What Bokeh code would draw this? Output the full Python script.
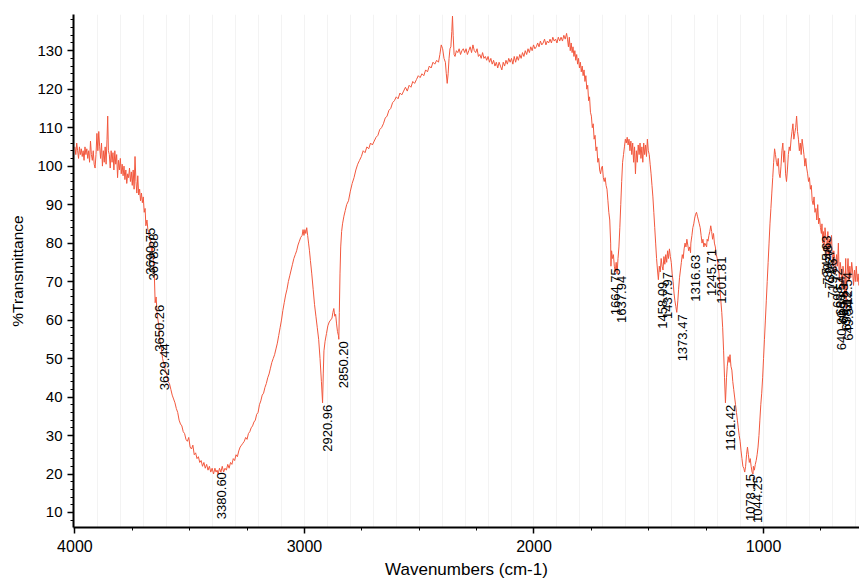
import math
from bokeh.plotting import figure
from bokeh.models import FixedTicker, SingleIntervalTicker, Range1d, ColumnDataSource
from bokeh.core.properties import value
from bokeh.embed import file_html
from bokeh.resources import INLINE

# Spectrum (wavenumber cm-1, %T)
wn = [4000,3996,3992,3988,3984,3980,3976,3972,3968,3964,3960,3956,3952,3948,3944,3940,3936,3932,3928,3924,3920,3916,3912,3908,3904,3900,3896,3892,3888,3884,3880,3876,3872,3868,3864,3860,3857,3854,3850,3846,3842,3838,3834,3830,3826,3822,3818,3814,3810,3806,3802,3798,3794,3790,3786,3782,3778,3774,3770,3766,3762,3758,3754,3750,3746,3742,3738,3734,3730,3726,3722,3718,3714,3710,3706,3702,3698,3694,3690.75,3686,3682,3678.88,3674,3670,
      3666,3662,3658,3654,3650.26,3646,3642,3638,3634,3629.44,3624,3618,3612,3606,3600,3594,3588,3582,3576,3570,3564,3558,3552,3546,3540,3534,3528,3522,3516,3510,3504,3498,3492,3486,3480,3474,3468,3462,3456,3450,3444,3438,3432,3426,3420,3414,3408,3402,3396,3390,3385,3380.6,3376,3370,3364,3358,3352,3346,3340,3334,3328,3322,3316,3310,3304,3298,3292,3286,3280,3274,
      3268,3262,3256,3250,3244,3238,3232,3226,3220,3214,3208,3202,3196,3190,3184,3178,3172,3166,3160,3154,3148,3142,3136,3130,3124,3118,3112,3106,3100,3094,3088,3082,3076,3070,3064,3058,3052,3046,3040,3034,3028,3022,3016,3010,3006,3002,2998,2994,2990,2986,2982,2978,2974,2968,2962,2956,2950,2944,2938,2932,2926,2920.96,2918,2915,2910,2904,2898,2892,2886,2880,2876,2872,2868,2864,2860,2856,2852,2850.2,2848,2845,2842,2838,2834,2828,2822,2816,2808,2800,2792,2784,2776,2768,2760,2752,2744,
      2736,2728,2720,2712,2704,2696,2688,2680,2672,2664,2656,2648,2640,2632,2624,2616,2608,2600,2592,2584,2576,2568,2560,2552,2544,2536,2528,2520,2512,2504,2496,2488,2480,2472,2464,2456,2448,2440,2432,2424,2416,2410,2404,2398,2392,2386,2382,2378,2374,2370,2366,2362,2358,2355,2352,2348,2344,2338,2332,2326,2320,2314,2308,2302,2296,2290,2284,2278,2272,2266,2260,2254,2248,2242,2236,2230,2224,2218,2212,2206,2200,2194,2188,2182,2176,2170,2164,2158,2152,2146,2140,2134,2128,2122,2116,2110,2104,2098,2092,2086,2080,2074,2068,2062,2056,2050,2044,2038,2032,2026,2020,2014,2008,2002,1996,1990,1984,1978,1972,1966,1960,1954,1948,1942,1936,1930,1924,1918,1912,1906,1900,1894,1888,1882,1876,1870,1864,1858,1854,1850,1846,1842,1838,1834,1830,1826,1822,1818,1814,1810,1806,1802,1798,1794,1790,1786,1782,1778,1774,1770,1766,1762,1758,1754,1750,1746,1742,1738,1734,1730,1726,1722,1718,1714,1710,1706,1702,1698,1694,1690,1686,1682,1678,1674,1670,1666,1664.75,1662,1658,1654,1650,1646,1642,1637.94,1634,1630,1626,1622,1618,1614,1610,1606,1602,1598,1594,1590,1586,1582,1578,1574,1570,1566,1562,1558,1554,1550,1546,1542,1538,1534,1530,1526,1522,1518,1514,1510,1506,1502,1498,1494,1490,1486,1482,1478,1474,1470,1466,1462,1458.09,1454,1450,1446,1442,1437.97,1434,1430,1426,1422,1418,1414,1410,1406,1402,1398,1394,1390,1386,1382,1378,1373.47,1370,1366,1362,1358,1354,1350,1346,1342,1338,1334,1330,1326,1322,1318,1316.63,1312,1308,1304,1300,1296,1292,1288,1284,1280,1276,1272,1268,1264,1260,1256,1252,1248,1245.71,1242,1238,1234,1230,1226,1222,1218,1214,1210,1206,1201.81,1198,1194,1190,1186,1182,1178,1174,1170,1166,1161.42,1158,1154,1150,1146,1142,1138,1134,1130,1126,1122,1118,1114,1110,1106,1102,1098,1094,1090,1086,1082,1078.15,1074,1070,1066,1062,1058,1054,1050,1046,1044.25,1040,1036,1032,1028,1024,1020,1016,1012,1008,1004,1000,996,992,988,984,980,976,972,968,964,960,956,952,948,944,940,936,932,928,924,920,916,912,908,904,900,896,892,888,884,880,876,872,868,864,860,856,852,848,844,840,836,832,828,824,820,816,812,808,804,800,796,792,788,784,780,776,772,768,764,760,756,752,748,745.63,742,739.48,736,732.27,728,724,719.86,716,712,708,704,700,698.72,694,690,686.54,682,678,674,669.83,666,662,658.12,654,649.54,646,642,640.8,636,632,628,624,620,616,612.54,608,604,600,596,592,588,584,580]

tr = [105,103,106,104,102,105,103,104.5,102.5,104,101.5,105,103,104.5,102,104,101,106.5,103,101.5,104,100.5,99.5,103,108.5,104,109,105,102,106,100,104,101,105,100.5,107,113,104,103,99.5,104,101,103.5,99,104,100.5,103,97,101.5,99,102,98,100.5,97.5,100,96.5,99,95.5,98,97,99.5,96,98.5,95,99,94,102.5,96,93,97.5,92.5,94,91,93,90.5,92,88,89,84.5,86,83.5,83,81,80.5,
      78,79,74.5,72,64.5,66,62,60,58.5,54.5,53,50,48.5,47,46,44,43.5,42,40.5,39.5,38.5,37,36,34,33,32.5,31,30.5,29,28.5,29.5,27,26.5,27.5,25,25.5,24,24.5,23,23.5,22,23,21.5,22.5,21,22,20.5,21.5,20,21.5,20.5,21,20,21.5,20.5,22,20.5,21.5,21,22.5,21.5,23,22.5,24,23.5,25,24.5,26,27,27.5,
      28,28.5,29.5,29,30.5,31,32,32.5,33.5,34,35.5,36,38,39,40.5,41,42.5,43.5,45,46,47.5,49,50,51,52.5,54,56,58,60,62.5,64.5,66.5,68,70,71.5,73,74.5,76,77,78,79.5,80.5,81.5,82,83.5,82,83.5,82.5,84,82,80,78,75.5,72,68,64,61,58,55,50,44,38.5,46,52,54.5,56.5,58.5,59.5,60,60.5,62,63,61,61.5,59,57,56,55,62,72,79,83,85,87,88.5,90,91,93.5,95.5,97,99,100.5,101.5,102.5,104,
      103.5,105,104.5,106,105.5,106.5,107.5,108,109.5,110,111,112.5,113,114.5,115,116.5,117,118,117.5,119,118.5,119.5,120.5,119.5,121,120.5,122,121.5,122.5,123.5,123,124,123.5,125,124.5,126,125.5,127,126.5,127.5,127,129,131.5,130.5,128,127,124,121.5,124,128,130.5,131,135,139,134,129,128.5,130,129.5,130.5,129,130,130.5,129.5,130.5,129,130,131,129.5,131.5,130,129.5,130.5,128.5,129,128,129.5,128,128.5,127.5,128.5,127,128,126.5,127.5,126,127,125.5,127,126,125,127,126,127.5,126.5,128,127,128,126.5,128.5,127,128.5,127.5,129,128,129.5,128.5,130,129,130.5,129.5,131,130,131.5,130.5,131,132,131,132.5,131.5,132,133,131.5,132.5,132,133,132,133.5,132.5,133,132,133.5,132.5,133.5,132.5,134,133,134.5,133,131,133.5,130,132,129.5,131,128.5,130,127.5,129,126.5,128,125.5,127,124.5,126,123.5,125,122,123.5,120,121,117,118,114,113,110,111,107,108,104,105,101,102,99,98,99.5,100,97,96,97,95,94,91,88,86,80,74,78,76,77,74,72.5,75,72,76,79,84,90,96,101,103,105,107,106,107.5,105.5,107,104,106.5,103,106,101,105,98,104,101,105.5,103,106,102,105,101,106,103,105.5,102.5,107,104,103,100.5,98,95,92,88,84,80,76,73,70.5,74,72.5,76,74,73,76.5,74.5,77,75,78,76,78.5,76.5,75,72,70,67,65,63.5,62,65,68,71,73,75,77,76,78.5,80,79,81,79.5,78,79,77.5,80,82,84,85,86.5,87.5,88,87,86,85,84,82,80,81,79,80,79.5,79,81,80.5,82,83,84.5,83,81,82.5,80,79,77,76,74,72,68,65,62,58,52,45,38.5,45,48,50.5,49,51,48,47,44,42,40,38,36,34,32,30,28.5,26,24,22,21.5,20.5,22,25,27,25,23,24,22,20.5,20,22,21,22.5,23.5,25,27,30,34,38,41,45,50,55,60,65,70,75,80,85,89,93,97,101,104.5,103,101,100,102,98,97,100,104,106,101,104,98,96,99,103,105,104,107,109,111,107,108.5,110,113,109,107,104,106,103,107,105,103,100,102,99.5,98,96,97,94,95,91,90,92,88,89,86,90,85,86.5,84,82.5,85,80,83,78,84,81,76.5,83,77,81,79,82,76,74,78,76,72,77,74,80,70,75,73,68,74,72,65.5,76,63,72,76,70,74,71,75,73,69,73,70,74,70,72,69,72,70]

# Annotated peaks (wavenumber, %T at label)
peak_wn = [3690.75, 3678.88, 3650.26, 3629.44, 3380.60, 2920.96, 2850.20,
           1664.75, 1637.94, 1458.09, 1437.97, 1373.47, 1316.63, 1245.71, 1201.81,
           1161.42, 1078.15, 1044.25,
           745.63, 739.48, 732.27, 719.86, 698.72, 686.54, 669.83, 658.12, 649.54]
peak_t = [84.5, 83, 64.5, 54.5, 21, 38.5, 55,
          74, 72, 70.5, 73, 62, 77.5, 79, 77,
          38.5, 20.5, 20,
          82.5, 80, 79, 76.5, 74, 72, 70, 68, 65.5]
# peaks at the right edge, labelled on their left side
edge_wn = [640.80, 612.54]
edge_t = [63, 73]

x_ticks = [4000, 3000, 2000, 1000]
x_minor = [3750, 3500, 3250, 2750, 2500, 2250, 1750, 1500, 1250, 750]

p = figure(width=859, height=581, output_backend="svg", toolbar_location=None,
           x_range=Range1d(4006, 582), y_range=Range1d(6.1, 139.4),
           min_border_left=73, min_border_right=0, min_border_top=14, min_border_bottom=54)
p.outline_line_color = None
p.background_fill_color = "white"
p.border_fill_color = "white"

p.line(wn, tr, line_color="#f2583e", line_width=1)

src = ColumnDataSource(dict(x=peak_wn, y=peak_t, t=["%.2f" % w for w in peak_wn]))
p.text(x="x", y="y", text="t", source=src, angle=math.pi / 2,
       text_align="right", text_baseline="top", y_offset=2,
       text_font=value("Liberation Sans"), text_font_size="13px", text_color="black")
src2 = ColumnDataSource(dict(x=edge_wn, y=edge_t, t=["%.2f" % w for w in edge_wn]))
p.text(x="x", y="y", text="t", source=src2, angle=math.pi / 2,
       text_align="right", text_baseline="bottom", y_offset=2,
       text_font=value("Liberation Sans"), text_font_size="13px", text_color="black")

p.xaxis.ticker = FixedTicker(ticks=x_ticks, minor_ticks=x_minor)
p.yaxis.ticker = SingleIntervalTicker(interval=10, num_minor_ticks=5)

for ax in (p.xaxis[0], p.yaxis[0]):
    ax.axis_line_width = 2
    ax.axis_line_color = "black"
    ax.major_tick_line_color = "black"
    ax.minor_tick_line_color = "black"
    ax.major_tick_line_width = 1.5
    ax.major_tick_in = 0
    ax.major_tick_out = 6
    ax.minor_tick_in = 0
    ax.minor_tick_out = 3
    ax.major_label_text_font = "Liberation Sans"
    ax.axis_label_text_font = "Liberation Sans"
    ax.axis_label_text_font_style = "normal"
    ax.major_label_text_color = "black"
    ax.axis_label_text_color = "black"

p.xaxis.axis_label = "Wavenumbers (cm-1)"
p.yaxis.axis_label = "%Transmittance"
p.xaxis.major_label_text_font_size = "16px"
p.yaxis.major_label_text_font_size = "15px"
p.xaxis.axis_label_text_font_size = "17px"
p.yaxis.axis_label_text_font_size = "15.5px"
p.xaxis.major_label_standoff = 6
p.yaxis.major_label_standoff = 5
p.xaxis.axis_label_standoff = 5
p.yaxis.axis_label_standoff = 8

p.xgrid.ticker = SingleIntervalTicker(interval=100)
p.xgrid.grid_line_color = "#f3f3f3"
p.ygrid.grid_line_color = None

open("out.html", "w").write(file_html(p, INLINE))
